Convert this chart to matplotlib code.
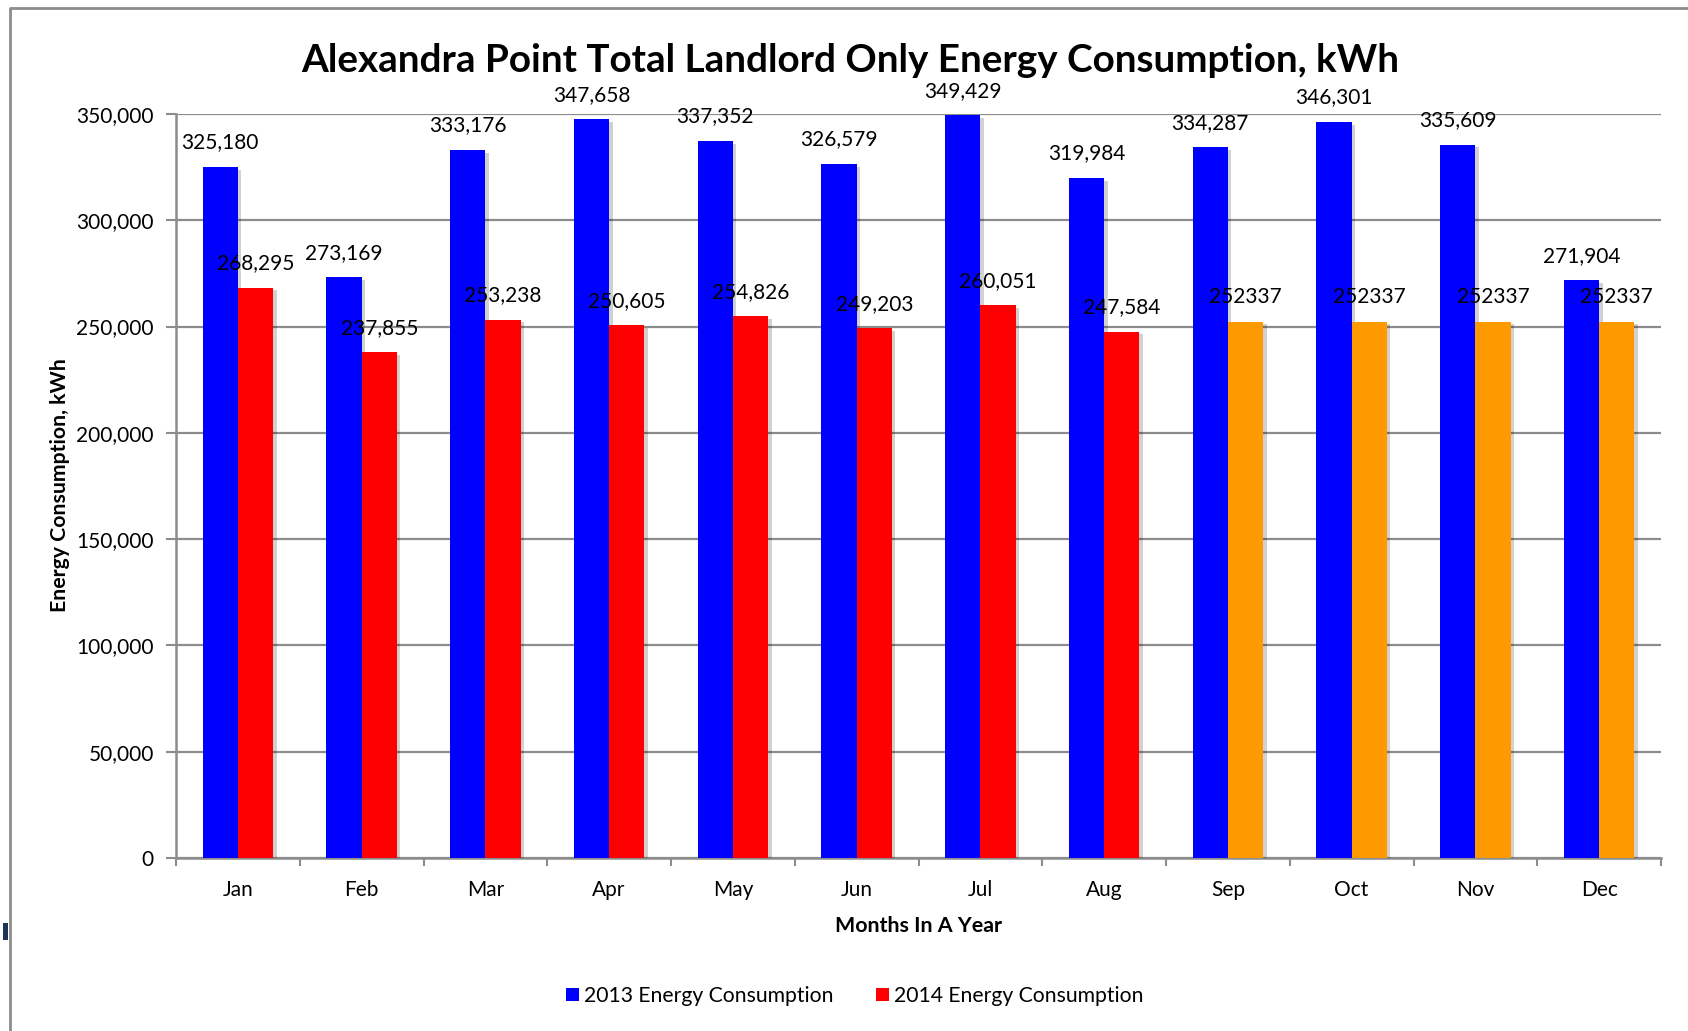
import matplotlib
matplotlib.use("Agg")
import matplotlib.pyplot as plt
import matplotlib.patheffects as pe
from matplotlib.lines import Line2D
from matplotlib.patches import Patch, Rectangle
from matplotlib.ticker import FuncFormatter, MultipleLocator, FixedLocator
import numpy as np

plt.rcParams['font.family'] = ['Lato', 'DejaVu Sans']

months = ["Jan", "Feb", "Mar", "Apr", "May", "Jun", "Jul", "Aug", "Sep", "Oct", "Nov", "Dec"]
cons_2013 = [325180, 273169, 333176, 347658, 337352, 326579, 349429, 319984, 334287, 346301, 335609, 271904]
cons_2014 = [268295, 237855, 253238, 250605, 254826, 249203, 260051, 247584, 252337, 252337, 252337, 252337]
projected_2014 = [False] * 8 + [True] * 4

title = "Alexandra Point Total Landlord Only Energy Consumption, kWh"
xlabel = "Months In A Year"
ylabel = "Energy Consumption, kWh"
series_names = ["2013 Energy Consumption", "2014 Energy Consumption"]

BLUE = "#0000FF"
RED = "#FF0000"
ORANGE = "#FF9900"
GRID = "#8c8c8c"

fig = plt.figure(figsize=(16.88, 10.31), dpi=100)
W, H = 1688, 1031
ax = fig.add_axes([176 / W, 1 - 858 / H, (1661 - 176) / W, (858 - 114) / H])

x = np.arange(len(months))
bw = 0.285
shadow = [pe.SimplePatchShadow(offset=(2.5, -2), shadow_rgbFace="#000000", alpha=0.18), pe.Normal()]

b13 = ax.bar(x - bw / 2, cons_2013, width=bw, color=BLUE, zorder=3, linewidth=0)
colors14 = [ORANGE if p else RED for p in projected_2014]
b14 = ax.bar(x + bw / 2, cons_2014, width=bw, color=colors14, zorder=3, linewidth=0)
for r in list(b13) + list(b14):
    r.set_path_effects(shadow)

lab_fs = 15
for xi, v in zip(x, cons_2013):
    ax.annotate(f"{v:,}", (xi - bw / 2, v), xytext=(0, 17.5), textcoords="offset points",
                ha="center", va="center", fontsize=lab_fs, zorder=5)
for xi, v, p in zip(x, cons_2014, projected_2014):
    s = str(v) if p else f"{v:,}"
    ax.annotate(s, (xi + bw / 2, v), xytext=(0, 17.5), textcoords="offset points",
                ha="center", va="center", fontsize=lab_fs, zorder=5)

ax.set_xlim(-0.5, len(months) - 0.5)
ax.set_ylim(0, 350000)
ax.yaxis.set_major_locator(MultipleLocator(50000))
ax.yaxis.set_major_formatter(FuncFormatter(lambda v, p: f"{int(v):,}"))
ax.set_xticks(x)
ax.set_xticklabels(months)
ax.xaxis.set_minor_locator(FixedLocator(np.arange(-0.5, len(months), 1.0)))
ax.tick_params(axis="x", which="major", length=0, pad=16, labelsize=15)
ax.tick_params(axis="x", which="minor", length=6, width=1.5, color=GRID, direction="out")
ax.tick_params(axis="y", which="major", length=7, width=1.5, color=GRID, direction="out",
               pad=9, labelsize=15)

ax.grid(axis="y", color=GRID, linewidth=1.6, zorder=0)
ax.set_axisbelow(True)
for s in ["top", "right"]:
    ax.spines[s].set_visible(False)
for s in ["left", "bottom"]:
    ax.spines[s].set_color(GRID)
    ax.spines[s].set_linewidth(1.8)

ax.set_ylabel(ylabel, fontsize=15.3, fontweight="bold")
ax.yaxis.set_label_coords(70 / W, 1 - 485 / H, transform=fig.transFigure)
fig.text(918 / W, 1 - 926 / H, xlabel, ha="center", va="center",
         fontsize=15.4, fontweight="bold")

fig.text(850 / W, 1 - 60 / H, title, ha="center", va="center", fontsize=27.8, fontweight="bold")

handles = [Patch(facecolor=BLUE, label=series_names[0]), Patch(facecolor=RED, label=series_names[1])]
fig.legend(handles=handles, loc="center", bbox_to_anchor=(855 / W, 1 - 996 / H), ncol=2,
           frameon=False, fontsize=15.2, handlelength=0.6, handleheight=0.6, handletextpad=0.25,
           columnspacing=2.0)

# outer frame
fig.add_artist(Line2D([9.5 / W, 9.5 / W, 1.0], [0.0, 1 - 7.5 / H, 1 - 7.5 / H],
                      transform=fig.transFigure, color="#8c8c8c", linewidth=2))
fig.add_artist(Rectangle((3 / W, 1 - 940 / H), 5 / W, 17 / H, transform=fig.transFigure,
                         facecolor="#1f3556", edgecolor="none"))

fig.savefig("out.png", dpi=100)
